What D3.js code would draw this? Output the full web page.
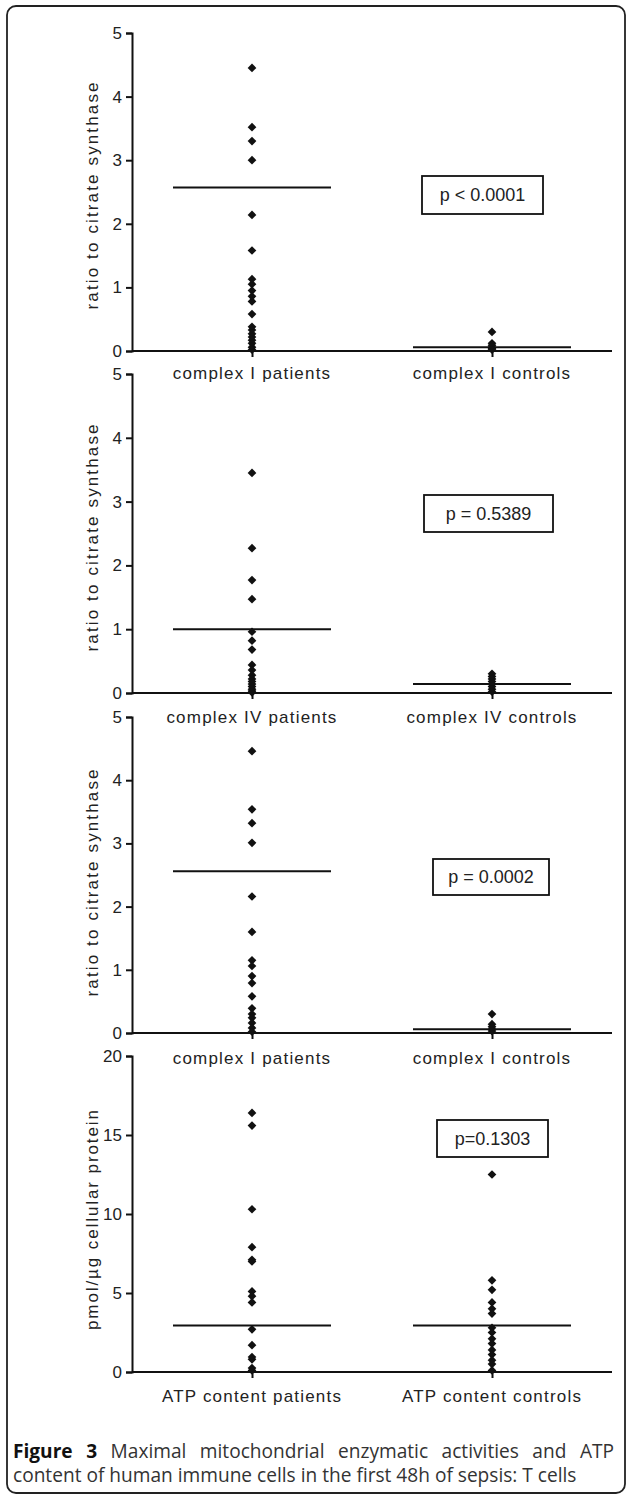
<!DOCTYPE html>
<html>
<head>
<meta charset="utf-8">
<script src="https://cdn.jsdelivr.net/npm/d3@7"></script>
<style>
  body { margin: 0; background: #fff; }
  svg { display: block; }
</style>
</head>
<body>
<div id="chart"></div>
<script>
// values
var categories1 = ["complex I patients", "complex I controls"];
var categories2 = ["complex IV patients", "complex IV controls"];
var categories3 = ["complex I patients", "complex I controls"];
var categories4 = ["ATP  content patients", "ATP  content controls"];

var cI_patients = [4.45, 3.52, 3.3, 3.0, 2.14, 1.58, 1.13, 1.05, 0.95, 0.86, 0.78, 0.58, 0.38, 0.33, 0.27, 0.22, 0.17, 0.12, 0.06, 0.02];
var cI_controls = [0.3, 0.12, 0.09, 0.06, 0.04, 0.02];
var cI_means = [2.57, 0.06];

var cIV_patients = [3.45, 2.27, 1.77, 1.47, 0.96, 0.82, 0.68, 0.44, 0.36, 0.28, 0.22, 0.18, 0.14, 0.1, 0.06, 0.03, 0.01];
var cIV_controls = [0.3, 0.26, 0.22, 0.18, 0.14, 0.1, 0.06, 0.02];
var cIV_means = [1.0, 0.14];

var cI2_patients = [4.46, 3.54, 3.32, 3.01, 2.16, 1.6, 1.15, 1.06, 0.9, 0.79, 0.58, 0.39, 0.3, 0.24, 0.16, 0.08, 0.02];
var cI2_controls = [0.3, 0.14, 0.1, 0.06, 0.03];
var cI2_means = [2.56, 0.06];

var atp_patients = [16.4, 15.6, 10.3, 7.9, 7.1, 7.0, 5.1, 4.8, 4.4, 2.7, 1.7, 0.95, 0.8, 0.25, 0.1];
var atp_controls = [12.5, 5.8, 5.2, 4.4, 4.0, 3.7, 2.8, 2.5, 2.1, 1.8, 1.4, 1.1, 0.75, 0.5, 0.1];
var atp_means = [2.95, 2.95];

var ticks_ratio = [0, 1, 2, 3, 4, 5];
var ticks_atp = [0, 5, 10, 15, 20];

var pvalues = ["p < 0.0001", "p = 0.5389", "p = 0.0002", "p=0.1303"];
var ylabels = ["ratio to citrate synthase", "ratio to citrate synthase", "ratio to citrate synthase", "pmol/\u00b5g cellular protein"];
var captionBold = "Figure 3";
var captionLine1 = " Maximal mitochondrial enzymatic activities and ATP";
var captionLine2 = "content of human immune cells in the first 48h of sepsis: T cells";

var W = 627, H = 1498;
var axisX = 132, axisRight = 612;
var font = "'Liberation Sans', Arial, sans-serif";
var capFont = "'Open Sans', 'Noto Sans', sans-serif";

var svg = d3.select("#chart").append("svg")
  .attr("width", W)
  .attr("height", H);

// outer frame
svg.append("rect")
  .attr("x", 7).attr("y", 6)
  .attr("width", 618).attr("height", 1487)
  .attr("rx", 9)
  .attr("fill", "none")
  .attr("stroke", "#222")
  .attr("stroke-width", 1.8);

var panels = [
  { cats: categories1, pts: [cI_patients, cI_controls], means: cI_means, ticks: ticks_ratio, max: 5,
    top: 33, bottom: 351, p: pvalues[0], box: [422, 176, 121, 38], ylab: ylabels[0], ylabY: 196, catY: 379 },
  { cats: categories2, pts: [cIV_patients, cIV_controls], means: cIV_means, ticks: ticks_ratio, max: 5,
    top: 374, bottom: 693, p: pvalues[1], box: [424, 495, 129, 37], ylab: ylabels[1], ylabY: 538, catY: 723 },
  { cats: categories3, pts: [cI2_patients, cI2_controls], means: cI2_means, ticks: ticks_ratio, max: 5,
    top: 717, bottom: 1033, p: pvalues[2], box: [433, 859, 116, 36], ylab: ylabels[2], ylabY: 883, catY: 1064 },
  { cats: categories4, pts: [atp_patients, atp_controls], means: atp_means, ticks: ticks_atp, max: 20,
    top: 1056, bottom: 1372, p: pvalues[3], box: [437, 1120, 111, 37], ylab: ylabels[3], ylabY: 1220, catY: 1402 }
];

var diamond = d3.symbol().type(d3.symbolSquare).size(38);

panels.forEach(function(pn) {
  var y = d3.scaleLinear().domain([0, pn.max]).range([pn.bottom, pn.top]);
  var x = d3.scalePoint().domain(pn.cats).range([axisX, axisRight]).padding(0.5);
  var g = svg.append("g");

  // y axis
  var yAxis = g.append("g")
    .attr("transform", "translate(" + axisX + ",0)")
    .call(d3.axisLeft(y).tickValues(pn.ticks).tickSize(6).tickPadding(4).tickFormat(d3.format("d")));
  yAxis.select(".domain").attr("stroke", "#111").attr("stroke-width", 2);
  yAxis.selectAll(".tick line").attr("stroke", "#111").attr("stroke-width", 2);
  yAxis.selectAll(".tick text")
    .attr("font-family", font).attr("font-size", 17).attr("fill", "#222");

  // x axis
  var xAxis = g.append("g")
    .attr("transform", "translate(0," + pn.bottom + ")")
    .call(d3.axisBottom(x).tickSize(6).tickFormat(""));
  xAxis.select(".domain").attr("d", "M" + axisX + ",0H" + axisRight)
    .attr("stroke", "#111").attr("stroke-width", 2);
  xAxis.selectAll(".tick line").attr("stroke", "#111").attr("stroke-width", 2);

  // category labels
  g.selectAll(".cat")
    .data(pn.cats)
    .enter().append("text")
    .attr("x", function(d) { return x(d); })
    .attr("y", pn.catY)
    .attr("text-anchor", "middle")
    .attr("font-family", font)
    .attr("font-size", 17)
    .attr("letter-spacing", 1.2)
    .attr("fill", "#222")
    .text(function(d) { return d; });

  // y label
  g.append("text")
    .attr("transform", "translate(98," + pn.ylabY + ") rotate(-90)")
    .attr("text-anchor", "middle")
    .attr("font-family", font)
    .attr("font-size", 17)
    .attr("textLength", pn.max === 20 ? 220 : 227)
    .attr("lengthAdjust", "spacing")
    .attr("fill", "#222")
    .text(pn.ylab);

  // points
  pn.pts.forEach(function(vals, i) {
    g.selectAll(null)
      .data(vals)
      .enter().append("path")
      .attr("d", diamond)
      .attr("transform", function(d) {
        return "translate(" + x(pn.cats[i]) + "," + y(d) + ") rotate(45)";
      })
      .attr("fill", "#111");
  });

  // mean lines
  g.selectAll(".mean")
    .data(pn.means)
    .enter().append("line")
    .attr("x1", function(d, i) { return x(pn.cats[i]) - 79; })
    .attr("x2", function(d, i) { return x(pn.cats[i]) + 79; })
    .attr("y1", function(d) { return y(d); })
    .attr("y2", function(d) { return y(d); })
    .attr("stroke", "#111")
    .attr("stroke-width", 2);

  // p value box
  g.append("rect")
    .attr("x", pn.box[0]).attr("y", pn.box[1])
    .attr("width", pn.box[2]).attr("height", pn.box[3])
    .attr("fill", "#fff")
    .attr("stroke", "#111")
    .attr("stroke-width", 1.8);
  g.append("text")
    .attr("x", pn.box[0] + pn.box[2] / 2)
    .attr("y", pn.box[1] + pn.box[3] / 2 + 6)
    .attr("text-anchor", "middle")
    .attr("font-family", font)
    .attr("font-size", 18)
    .attr("fill", "#222")
    .text(pn.p);
});

// caption: size picked so line 2 runs to about x=577, line 1 justified to x=614
var cap2 = svg.append("text")
  .attr("x", 13).attr("y", 1482)
  .attr("font-family", capFont)
  .attr("font-size", 16)
  .attr("fill", "#333")
  .text(captionLine2);
var capSize = 16 * 564 / cap2.node().getComputedTextLength();
cap2.attr("font-size", capSize);

var cap = svg.append("text")
  .attr("x", 13).attr("y", 1458)
  .attr("font-family", capFont)
  .attr("font-size", capSize)
  .attr("fill", "#333");
cap.append("tspan").attr("font-weight", "bold").attr("fill", "#111").text(captionBold);
cap.append("tspan").text(captionLine1);
var natural = cap.node().getComputedTextLength();
var spaces = (captionBold + captionLine1).split(" ").length - 1;
cap.attr("word-spacing", Math.max(0, (601 - natural) / spaces));
</script>
</body>
</html>
